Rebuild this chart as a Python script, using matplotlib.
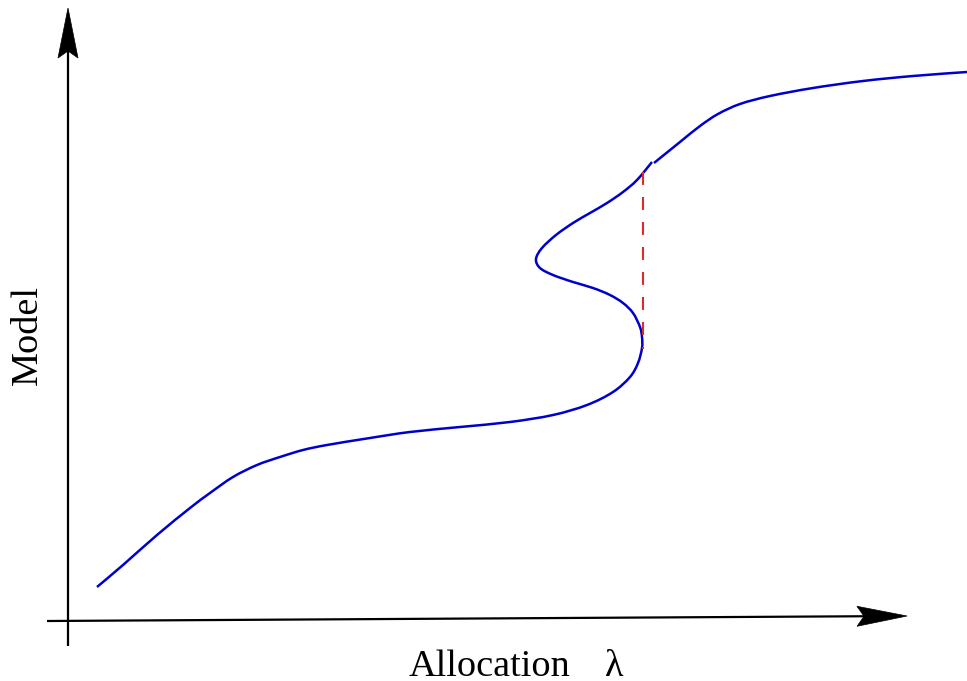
import matplotlib
matplotlib.use("Agg")
import matplotlib.pyplot as plt
from matplotlib.patches import Polygon, PathPatch
from matplotlib.path import Path
import numpy as np

# Curve (lambda, model) in canvas units (y grows downward)
lower_x = [97, 123, 157, 190, 210, 233, 257, 280, 303, 327, 370, 410, 460, 510, 553, 587,
           613, 630, 638, 642, 642, 640, 633, 623, 610, 593, 573, 553, 540, 536,
           542, 556, 573, 590, 607, 623, 637, 652]
lower_y = [587, 565, 535, 508, 493, 477, 465, 457, 450, 445, 438, 432, 427, 422, 415, 405,
           392, 377, 363, 348, 337, 327, 313, 303, 295, 288, 282, 275, 268, 259,
           248, 235, 223, 213, 203, 192, 180, 162]
upper_x = [654, 680, 700, 718, 740, 770, 813, 863, 913, 967]
upper_y = [163, 142, 126, 114, 104, 96, 88, 81, 76, 72]

# Jump (dashed)
jump_x = [643, 643]
jump_y = [172, 349]

# Axes geometry
v_axis = dict(x=68, y0=646, y1=8)
h_axis = dict(x0=47, y0=621, x1=907, y1=616)

xlabel = "Allocation"
xsym = "λ"
ylabel = "Model"

fig = plt.figure(figsize=(9.67, 6.81), dpi=100)
ax = fig.add_axes([0, 0, 1, 1])
ax.set_xlim(0, 967)
ax.set_ylim(681, 0)
ax.axis("off")

blue = "#0000cd"


def smooth_path(xs, ys):
    """Catmull-Rom through the given points, rendered as cubic Bezier segments."""
    P = np.column_stack([xs, ys]).astype(float)
    n = len(P)
    verts = [P[0]]
    codes = [Path.MOVETO]
    for i in range(n - 1):
        p0 = P[i - 1] if i > 0 else P[i]
        p1, p2 = P[i], P[i + 1]
        p3 = P[i + 2] if i + 2 < n else P[i + 1]
        c1 = p1 + (p2 - p0) / 6.0
        c2 = p2 - (p3 - p1) / 6.0
        verts += [c1, c2, p2]
        codes += [Path.CURVE4] * 3
    return Path(verts, codes)


for xs, ys in [(lower_x, lower_y), (upper_x, upper_y)]:
    ax.add_patch(PathPatch(smooth_path(xs, ys), facecolor="none", edgecolor=blue,
                           lw=1.8, capstyle="butt", joinstyle="round"))

ax.plot(jump_x, jump_y, color="#dc2a2a", lw=1.5, linestyle=(0, (6.2, 5.8)), dash_capstyle="butt")

# vertical axis with notched arrowhead
L, W, N = 50, 10, 7
vx, vy0, vy1 = v_axis["x"], v_axis["y0"], v_axis["y1"]
ax.plot([vx, vx], [vy0, vy1 + L - N], color="black", lw=1.6, solid_capstyle="butt")
ax.add_patch(Polygon([(vx, vy1), (vx - W, vy1 + L), (vx, vy1 + L - N), (vx + W, vy1 + L)],
                     closed=True, facecolor="black", edgecolor="black", lw=0.5))

# horizontal axis with notched arrowhead
hx0, hy0, hx1, hy1 = h_axis["x0"], h_axis["y0"], h_axis["x1"], h_axis["y1"]
d = np.array([hx1 - hx0, hy1 - hy0], dtype=float)
d /= np.hypot(*d)
nrm = np.array([-d[1], d[0]])
tip = np.array([hx1, hy1], dtype=float)
back = tip - L * d
notch = tip - (L - N) * d
ax.plot([hx0, notch[0]], [hy0, notch[1]], color="black", lw=1.6, solid_capstyle="butt")
ax.add_patch(Polygon([tip, back + W * nrm, notch, back - W * nrm],
                     closed=True, facecolor="black", edgecolor="black", lw=0.5))

font = dict(family=["Liberation Serif", "DejaVu Serif"], size=27.5, color="black")
ax.text(409, 676, xlabel, ha="left", va="baseline", **font)
ax.text(605, 676, xsym, ha="left", va="baseline", **font)
ax.text(28, 335, ylabel, ha="center", va="center", rotation=90, **font)

fig.savefig("out.png", dpi=100)
